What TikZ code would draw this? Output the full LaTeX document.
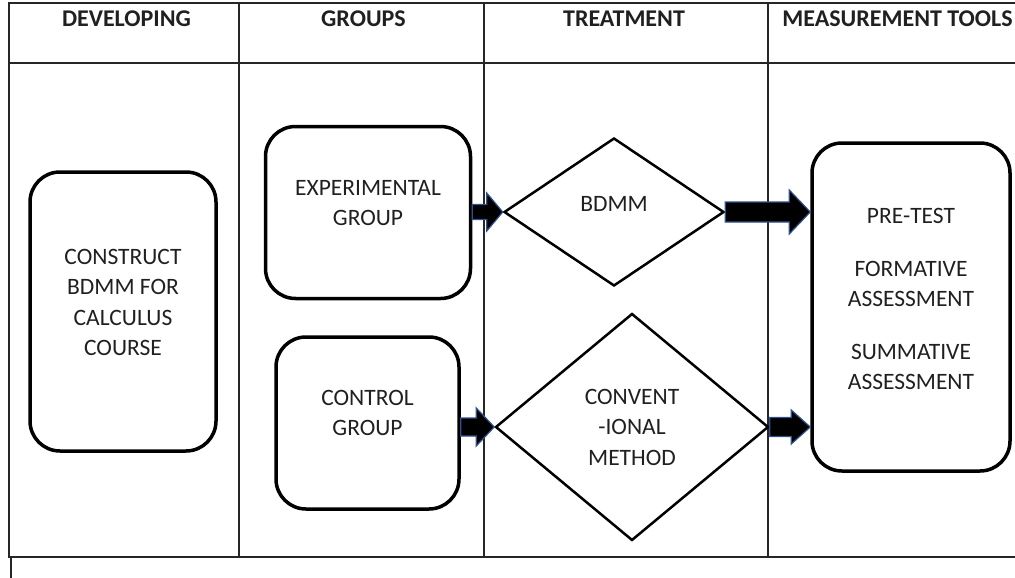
\documentclass[tikz,border=0pt]{standalone}
\usepackage{fontspec}
\setmainfont{Carlito}
\usetikzlibrary{calc,shapes.geometric}

\definecolor{outlineblue}{HTML}{2F528F}
\definecolor{inkgray}{HTML}{202020}

\tikzset{
  rule/.style={line width=1.5pt, black!85},
  headtext/.style={font=\fontsize{24}{28}\selectfont\bfseries, text=inkgray, anchor=base, inner sep=0pt},
  bodytext/.style={font=\fontsize{23.5}{30.5}\selectfont, text=inkgray, align=center, inner sep=0pt},
  stagebox/.style={draw, line width=3.5pt, rounded corners=30pt, inner sep=0pt},
  choice/.style={draw, shape=diamond, line width=2.5pt, inner sep=0pt},
  blockarrow/.style={fill=black, draw=outlineblue, line width=1.2pt, line join=miter},
}

% horizontal block arrow: start, end, shaft half-width, head half-width, head length
\newcommand{\blockarrow}[5]{%
  \draw[blockarrow] let \p1=(#1), \p2=(#2) in
    (\x1,\y2+#3) -- (\x2-#5,\y2+#3) -- (\x2-#5,\y2+#4) -- (\x2,\y2)
    -- (\x2-#5,\y2-#4) -- (\x2-#5,\y2-#3) -- (\x1,\y2-#3) -- cycle;}

\begin{document}
\begin{tikzpicture}[x=1pt, y=-1pt]
  \useasboundingbox (0,0) rectangle (1015,578);

  % table frame
  \draw[rule] (1015,3) -- (9,3) -- (9,557) -- (1015,557);
  \draw[rule] (9,63) -- (1015,63);
  \draw[rule] (239,3) -- (239,557);
  \draw[rule] (484,3) -- (484,557);
  \draw[rule] (768,3) -- (768,557);
  \draw[rule] (11,557) -- (11,578);

  % column headings
  \node[headtext] (h1) at (126.5,27) {DEVELOPING};
  \node[headtext] (h2) at (363.5,27) {GROUPS};
  \node[headtext] (h3) at (624,27) {TREATMENT};
  \node[headtext] (h4) at (897.5,27) {MEASUREMENT TOOLS};

  % stages
  \node[stagebox, minimum width=186pt, minimum height=279pt] (dev) at (123,311.5) {};
  \node[stagebox, minimum width=205pt, minimum height=172pt] (exp) at (368,212.5) {};
  \node[stagebox, minimum width=183pt, minimum height=172pt] (ctrl) at (367.5,423) {};
  \node[stagebox, minimum width=198pt, minimum height=328pt] (meas) at (911,307) {};

  \node[choice, minimum width=220pt, minimum height=148pt] (bdmm) at (614,212) {};
  \node[choice, minimum width=273pt, minimum height=227pt] (conv) at (632,427) {};

  % texts
  \node[bodytext, yshift=9pt] (devtxt) at (dev.center) {CONSTRUCT\\BDMM FOR\\CALCULUS\\COURSE};
  \node[bodytext, yshift=9.5pt] (exptxt) at (exp.center) {EXPERIMENTAL\\GROUP};
  \node[bodytext, yshift=10pt] (ctrltxt) at (ctrl.center) {CONTROL\\GROUP};
  \node[bodytext, yshift=8pt] (meastxt) at (meas.center) {PRE-TEST\\[22pt]FORMATIVE\\ASSESSMENT\\[22pt]SUMMATIVE\\ASSESSMENT};
  \node[bodytext, yshift=8pt] (bdmmtxt) at (bdmm.center) {BDMM};
  \node[bodytext] (convtxt) at (conv.center) {CONVENT\\-IONAL\\METHOD};

  % flow arrows
  \blockarrow{exp.east}{bdmm.west}{7.5pt}{19pt}{16pt}
  \blockarrow{bdmm.east}{meas.west |- bdmm.east}{10pt}{22pt}{21pt}
  \blockarrow{ctrl.east}{conv.west}{9pt}{19pt}{18pt}
  \blockarrow{conv.east}{meas.west |- conv.east}{9.5pt}{17pt}{19pt}
\end{tikzpicture}
\end{document}
